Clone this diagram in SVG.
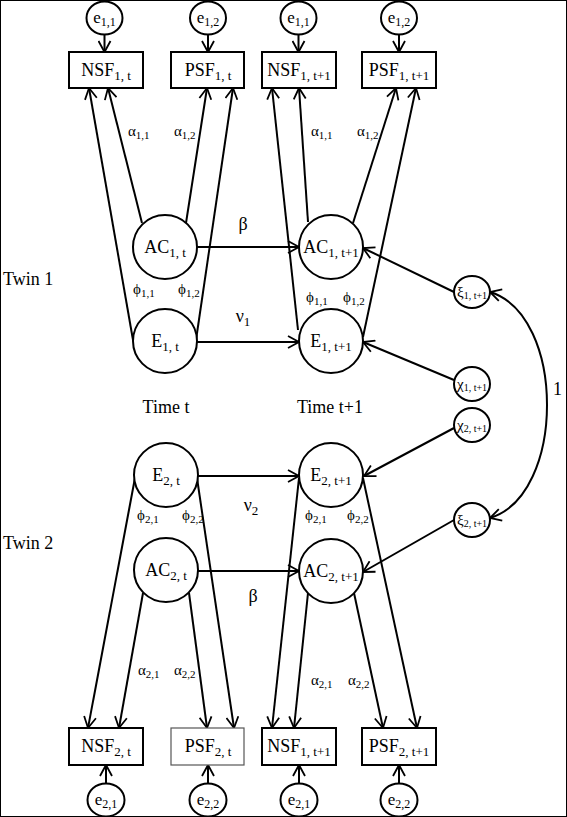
<svg xmlns="http://www.w3.org/2000/svg" width="567" height="817" viewBox="0 0 567 817">
<defs>
<marker id="ah" markerUnits="userSpaceOnUse" markerWidth="14" markerHeight="14" viewBox="0 0 14 14" refX="12" refY="7" orient="auto-start-reverse">
<path d="M1,1 L12,7 L1,13" fill="none" stroke="#000" stroke-width="1.8"/>
</marker>
</defs>
<style>
text{font-family:"Liberation Serif","Times New Roman",serif;fill:#000}
.lab{font-size:18px;text-anchor:middle}
.sub{font-size:13px}
.gk{font-size:15px}
.gs{font-size:11px}
.sm{font-size:15px;text-anchor:middle}
.ss{font-size:10px}
.side{font-size:18px}
rect{fill:#fff;stroke:#000;stroke-width:2}
circle,ellipse{fill:#fff;stroke:#000;stroke-width:2}
#conn line,#conn path{stroke:#000;stroke-width:2;fill:none;marker-end:url(#ah)}
</style>
<rect width="567" height="817" fill="#fff" stroke="none"/>

<g id="conn">
<line x1="104.5" y1="35" x2="104.5" y2="52"/>
<line x1="208" y1="35" x2="208" y2="52"/>
<line x1="298.5" y1="35" x2="298.5" y2="52"/>
<line x1="399" y1="35" x2="399" y2="52"/>
<line x1="133" y1="340" x2="89" y2="88"/>
<line x1="142" y1="223" x2="108" y2="88"/>
<line x1="186" y1="223" x2="207" y2="88"/>
<line x1="196" y1="340" x2="233" y2="88"/>
<line x1="298" y1="330" x2="272" y2="88"/>
<line x1="308" y1="222" x2="299" y2="88"/>
<line x1="353" y1="223" x2="396" y2="88"/>
<line x1="363" y1="337" x2="416" y2="88"/>
<line x1="197" y1="247" x2="299" y2="247"/>
<line x1="197" y1="342" x2="299" y2="342"/>
<line x1="454" y1="292" x2="363" y2="248"/>
<line x1="454" y1="380" x2="363" y2="342"/>
<line x1="454" y1="428" x2="364" y2="476"/>
<line x1="454" y1="520" x2="363" y2="572"/>
<path d="M490,292 C566,315 566,495 490,518" style="marker-start:url(#ah)"/>
<line x1="198" y1="476" x2="299" y2="476"/>
<line x1="198" y1="571" x2="299" y2="571"/>
<line x1="135" y1="478" x2="88" y2="728"/>
<line x1="143" y1="593" x2="119" y2="728"/>
<line x1="189" y1="593" x2="207" y2="728"/>
<line x1="197" y1="478" x2="234" y2="728"/>
<line x1="299" y1="478" x2="272" y2="728"/>
<line x1="308" y1="593" x2="294" y2="728"/>
<line x1="354" y1="593" x2="383" y2="728"/>
<line x1="363" y1="478" x2="417" y2="728"/>
<line x1="106" y1="783" x2="106" y2="765"/>
<line x1="208" y1="783" x2="208" y2="765"/>
<line x1="299" y1="783" x2="299" y2="765"/>
<line x1="399" y1="783" x2="399" y2="765"/>
</g>

<!-- top error terms -->
<g id="e11_t"><ellipse cx="104.5" cy="18" rx="18" ry="16.5"/><text class="lab" x="104.5" y="23" style="font-size:17px">e<tspan dy="3" style="font-size:12px">1,1</tspan></text></g>
<g id="e12_t"><ellipse cx="208" cy="18" rx="18" ry="16.5"/><text class="lab" x="208" y="23" style="font-size:17px">e<tspan dy="3" style="font-size:12px">1,2</tspan></text></g>
<g id="e11_t1"><ellipse cx="298.5" cy="18" rx="18" ry="16.5"/><text class="lab" x="298.5" y="23" style="font-size:17px">e<tspan dy="3" style="font-size:12px">1,1</tspan></text></g>
<g id="e12_t1"><ellipse cx="399" cy="18" rx="18" ry="16.5"/><text class="lab" x="399" y="23" style="font-size:17px">e<tspan dy="3" style="font-size:12px">1,2</tspan></text></g>

<!-- top boxes -->
<g id="NSF1t"><rect x="69" y="52" width="74" height="36"/><text class="lab" x="106" y="76">NSF<tspan class="sub" dy="4">1, t</tspan></text></g>
<g id="PSF1t"><rect x="171" y="52" width="73" height="36"/><text class="lab" x="208" y="76">PSF<tspan class="sub" dy="4">1,  t</tspan></text></g>
<g id="NSF1t1"><rect x="262" y="52" width="74" height="36"/><text class="lab" x="299" y="76">NSF<tspan class="sub" dy="4">1, t+1</tspan></text></g>
<g id="PSF1t1"><rect x="362" y="52" width="74" height="36"/><text class="lab" x="399" y="76">PSF<tspan class="sub" dy="4">1, t+1</tspan></text></g>

<!-- twin 1 latent -->
<g id="AC1t"><circle cx="165" cy="247" r="32"/><text class="lab" x="165" y="253">AC<tspan class="sub" dy="4">1, t</tspan></text></g>
<g id="E1t"><circle cx="165" cy="341" r="32"/><text class="lab" x="165" y="347">E<tspan class="sub" dy="4">1, t</tspan></text></g>
<g id="AC1t1"><circle cx="331" cy="247" r="32"/><text class="lab" x="331" y="253">AC<tspan class="sub" dy="4">1, t+1</tspan></text></g>
<g id="E1t1"><circle cx="331" cy="341" r="32"/><text class="lab" x="331" y="347">E<tspan class="sub" dy="4">1, t+1</tspan></text></g>

<!-- right small latent -->
<g id="xi1"><ellipse cx="472" cy="292" rx="18" ry="16"/><text class="sm" x="472" y="297">ξ<tspan class="ss" dy="2">1, t+1</tspan></text></g>
<g id="chi1"><ellipse cx="472" cy="384" rx="18" ry="17"/><text class="sm" x="472" y="389">χ<tspan class="ss" dy="2">1, t+1</tspan></text></g>
<g id="chi2"><ellipse cx="472" cy="425" rx="18" ry="17"/><text class="sm" x="472" y="430">χ<tspan class="ss" dy="2">2, t+1</tspan></text></g>
<g id="xi2"><ellipse cx="472" cy="520" rx="18" ry="17"/><text class="sm" x="472" y="525">ξ<tspan class="ss" dy="2">2, t+1</tspan></text></g>

<!-- twin 2 latent -->
<g id="E2t"><circle cx="166" cy="475" r="32"/><text class="lab" x="166" y="481">E<tspan class="sub" dy="4">2, t</tspan></text></g>
<g id="AC2t"><circle cx="166" cy="570" r="32"/><text class="lab" x="166" y="576">AC<tspan class="sub" dy="4">2, t</tspan></text></g>
<g id="E2t1"><circle cx="331" cy="475" r="32"/><text class="lab" x="331" y="481">E<tspan class="sub" dy="4">2, t+1</tspan></text></g>
<g id="AC2t1"><circle cx="331" cy="571" r="32"/><text class="lab" x="331" y="577">AC<tspan class="sub" dy="4">2, t+1</tspan></text></g>

<!-- bottom boxes -->
<g id="NSF2t"><rect x="69" y="728" width="74" height="37"/><text class="lab" x="106" y="752">NSF<tspan class="sub" dy="4">2, t</tspan></text></g>
<g id="PSF2t"><rect x="171" y="728" width="73" height="37" style="stroke:#555;stroke-width:1.2"/><text class="lab" x="208" y="752">PSF<tspan class="sub" dy="4">2,  t</tspan></text></g>
<g id="NSF1t1b"><rect x="262" y="728" width="74" height="37"/><text class="lab" x="299" y="752">NSF<tspan class="sub" dy="4">1, t+1</tspan></text></g>
<g id="PSF2t1"><rect x="362" y="728" width="74" height="37"/><text class="lab" x="399" y="752">PSF<tspan class="sub" dy="4">2, t+1</tspan></text></g>

<!-- bottom error terms -->
<g id="e21_t"><ellipse cx="106" cy="800" rx="18.5" ry="16.5"/><text class="lab" x="106" y="805" style="font-size:17px">e<tspan dy="3" style="font-size:12px">2,1</tspan></text></g>
<g id="e22_t"><ellipse cx="208" cy="800" rx="18.5" ry="16.5"/><text class="lab" x="208" y="805" style="font-size:17px">e<tspan dy="3" style="font-size:12px">2,2</tspan></text></g>
<g id="e21_t1"><ellipse cx="299" cy="800" rx="18.5" ry="16.5"/><text class="lab" x="299" y="805" style="font-size:17px">e<tspan dy="3" style="font-size:12px">2,1</tspan></text></g>
<g id="e22_t1"><ellipse cx="399" cy="800" rx="18.5" ry="16.5"/><text class="lab" x="399" y="805" style="font-size:17px">e<tspan dy="3" style="font-size:12px">2,2</tspan></text></g>

<!-- path labels -->
<g id="labels">
<text class="gk" x="128" y="136">α<tspan class="gs" dy="3">1,1</tspan></text>
<text class="gk" x="174" y="136">α<tspan class="gs" dy="3">1,2</tspan></text>
<text class="gk" x="311" y="136">α<tspan class="gs" dy="3">1,1</tspan></text>
<text class="gk" x="357" y="136">α<tspan class="gs" dy="3">1,2</tspan></text>
<text class="lab" x="243" y="230">β</text>
<text class="lab" x="243" y="322">ν<tspan class="sub" dy="4">1</tspan></text>
<text class="gk" x="133" y="294">ϕ<tspan class="gs" dy="3">1,1</tspan></text>
<text class="gk" x="178" y="294">ϕ<tspan class="gs" dy="3">1,2</tspan></text>
<text class="gk" x="306" y="302">ϕ<tspan class="gs" dy="3">1,1</tspan></text>
<text class="gk" x="343" y="302">ϕ<tspan class="gs" dy="3">1,2</tspan></text>
<text class="lab" x="251" y="511">ν<tspan class="sub" dy="4">2</tspan></text>
<text class="gk" x="137" y="520">ϕ<tspan class="gs" dy="3">2,1</tspan></text>
<text class="gk" x="182" y="520">ϕ<tspan class="gs" dy="3">2,2</tspan></text>
<text class="gk" x="305" y="520">ϕ<tspan class="gs" dy="3">2,1</tspan></text>
<text class="gk" x="347" y="520">ϕ<tspan class="gs" dy="3">2,2</tspan></text>
<text class="lab" x="253" y="602">β</text>
<text class="gk" x="138" y="675">α<tspan class="gs" dy="3">2,1</tspan></text>
<text class="gk" x="174" y="675">α<tspan class="gs" dy="3">2,2</tspan></text>
<text class="gk" x="311" y="685">α<tspan class="gs" dy="3">2,1</tspan></text>
<text class="gk" x="348" y="685">α<tspan class="gs" dy="3">2,2</tspan></text>
<text class="side" x="553" y="395">1</text>
<text class="side" x="3" y="285">Twin 1</text>
<text class="side" x="3" y="549">Twin 2</text>
<text class="lab" x="166" y="413">Time t</text>
<text class="lab" x="330" y="413">Time t+1</text>
</g>
</svg>
